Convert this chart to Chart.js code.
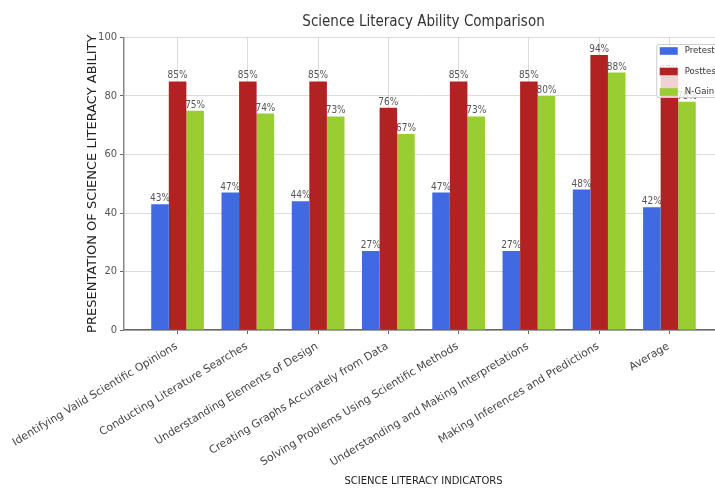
<!DOCTYPE html>
<html><head><meta charset="utf-8">
<script src="https://cdn.jsdelivr.net/npm/chart.js@4.4.1/dist/chart.umd.min.js"></script>
<style>
html,body{margin:0;padding:0;background:#fff;overflow:hidden;width:715px;height:488px;}
#wrap{position:relative;width:740px;height:488px;}
canvas{display:block;}
</style></head><body>
<div id="wrap"><canvas id="c" width="740" height="488"></canvas></div>
<script>
const categories = [
  'Identifying Valid Scientific Opinions',
  'Conducting Literature Searches',
  'Understanding Elements of Design',
  'Creating Graphs Accurately from Data',
  'Solving Problems Using Scientific Methods',
  'Understanding and Making Interpretations',
  'Making Inferences and Predictions',
  'Average'
];
const pretest  = [43, 47, 44, 27, 47, 27, 48, 42];
const posttest = [85, 85, 85, 76, 85, 85, 94, 87];
const nGain    = [75, 74, 73, 67, 73, 80, 88, 78];
const seriesNames = ['Pretest', 'Posttest', 'N-Gain'];
const yTickValues = [0, 20, 40, 60, 80, 100];

const colors = ['#4169E1', '#B22222', '#9ACD32'];
const COND = '"DejaVu Sans Condensed", "DejaVu Sans", sans-serif';
const REG = '"DejaVu Sans", sans-serif';

const toPoints = arr => arr.map((v, i) => ({x: i, y: v}));

const valueLabels = {
  id: 'valueLabels',
  afterDatasetsDraw(chart) {
    const ctx = chart.ctx;
    ctx.save();
    ctx.font = '10px ' + COND;
    ctx.fillStyle = '#555';
    ctx.textAlign = 'center';
    ctx.textBaseline = 'alphabetic';
    chart.data.datasets.forEach((ds, di) => {
      const meta = chart.getDatasetMeta(di);
      meta.data.forEach((el, i) => {
        ctx.fillText(ds.data[i].y + '%', el.x, el.y - 3);
      });
    });
    ctx.restore();
  }
};

const boxLegend = {
  id: 'boxLegend',
  afterDraw(chart) {
    const ctx = chart.ctx;
    const area = chart.chartArea;
    ctx.save();
    ctx.font = '9.5px ' + COND;
    const textW = Math.max(...seriesNames.map(n => ctx.measureText(n).width));
    const pad = 3, handle = 18, gap = 7, rowH = 20.5;
    const w = pad + handle + gap + textW + pad + 2;
    const h = 53;
    const right = area.right + 1;
    const left = right - w;
    const top = area.top + 7;
    ctx.beginPath();
    ctx.roundRect(left, top, w, h, 2);
    ctx.fillStyle = 'rgba(255,255,255,0.8)';
    ctx.fill();
    ctx.strokeStyle = '#cccccc';
    ctx.lineWidth = 1;
    ctx.stroke();
    ctx.textAlign = 'left';
    ctx.textBaseline = 'middle';
    seriesNames.forEach((n, i) => {
      const cy = top + 6.5 + i * rowH;
      ctx.fillStyle = colors[i];
      ctx.fillRect(left + pad, cy - 3.8, handle, 7.6);
      ctx.fillStyle = '#333';
      ctx.fillText(n, left + pad + handle + gap, cy);
    });
    ctx.restore();
  }
};

new Chart(document.getElementById('c'), {
  type: 'bar',
  data: {
    datasets: [
      {label: seriesNames[0], data: toPoints(pretest), backgroundColor: colors[0]},
      {label: seriesNames[1], data: toPoints(posttest), backgroundColor: colors[1]},
      {label: seriesNames[2], data: toPoints(nGain), backgroundColor: colors[2]}
    ]
  },
  options: {
    responsive: false,
    animation: false,
    devicePixelRatio: 1,
    categoryPercentage: 0.75,
    barPercentage: 1.0,
    layout: {padding: {left: 0, right: 17, top: 0, bottom: 0}},
    plugins: {
      legend: {display: false},
      tooltip: {enabled: false},
      title: {
        display: true,
        text: 'Science Literacy Ability Comparison',
        fullSize: false,
        color: '#333',
        font: {family: COND, size: 15, weight: 'normal'},
        padding: {top: 13, bottom: 6.5}
      }
    },
    scales: {
      x: {
        type: 'linear',
        min: -0.7625,
        max: 7.7625,
        offset: false,
        z: 1,
        afterBuildTicks: s => { s.ticks = categories.map((c, i) => ({value: i})); },
        afterFit: s => { s.height = 158; s.paddingLeft = 0; s.paddingRight = 0; },
        ticks: {
          stepSize: 1,
          autoSkip: false,
          minRotation: 31,
          maxRotation: 31,
          labelOffset: -1,
          padding: 6,
          color: '#444',
          font: {family: REG, size: 10.8},
          callback: v => categories[v]
        },
        grid: {
          offset: false,
          color: 'rgba(190,190,190,0.7)',
          lineWidth: 0.8,
          borderDash: [3, 2],
          tickColor: '#666',
          tickLength: 4,
          tickBorderDash: [],
          tickWidth: 1
        },
        border: {display: true, color: '#666', width: 1.5},
        title: {
          display: true,
          text: 'SCIENCE LITERACY INDICATORS',
          color: '#222',
          font: {family: REG, size: 10},
          padding: {top: 4, bottom: 1}
        }
      },
      y: {
        min: 0,
        max: 100,
        afterBuildTicks: s => { s.ticks = yTickValues.map(v => ({value: v})); },
        afterFit: s => { s.width = 124; },
        ticks: {
          stepSize: 20,
          padding: 3,
          color: '#555',
          font: {family: COND, size: 11}
        },
        grid: {
          color: 'rgba(200,200,200,0.8)',
          lineWidth: 0.8,
          borderDash: [3, 2],
          tickColor: '#666',
          tickLength: 4,
          tickBorderDash: [],
          tickWidth: 1
        },
        border: {display: true, color: '#888', width: 1.5},
        title: {
          display: true,
          text: 'PRESENTATION OF SCIENCE LITERACY ABILITY',
          color: '#222',
          font: {family: REG, size: 13},
          padding: {top: 85, bottom: 0}
        }
      }
    }
  },
  plugins: [valueLabels, boxLegend]
});
</script>
</body></html>
